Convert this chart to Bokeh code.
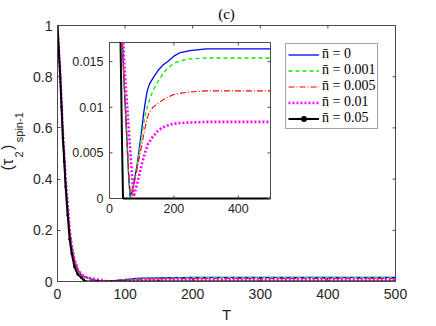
from bokeh.plotting import figure
from bokeh.models import Range1d, FixedTicker, Legend, LegendItem, Title
from bokeh.core.properties import value
from bokeh.embed import file_html
from bokeh.resources import INLINE

# ---------------- data ----------------
t_blue = [0, 2, 4, 6, 8, 10, 12, 15, 18, 21, 25, 30, 35, 40, 45, 50, 55, 60, 64, 70, 75, 80, 86, 90,
          100, 106, 110, 117, 125, 135, 150, 165, 180, 200, 220, 250, 300, 400, 500]
v_blue = [1.0, 0.90, 0.81, 0.69, 0.57, 0.48, 0.39, 0.29, 0.195, 0.135, 0.082, 0.045, 0.026, 0.0172,
          0.0128, 0.0093, 0.0057, 0.0021, 0.0002, 0.0008, 0.0016, 0.0026, 0.0037, 0.0048,
          0.0075, 0.0093, 0.0103, 0.0118, 0.0126, 0.0132, 0.0140, 0.0146, 0.0150, 0.0156,
          0.0160, 0.0162, 0.0164, 0.0164, 0.0164]

t_green = [0, 2, 4, 6, 8, 10, 12, 15, 18, 21, 25, 30, 35, 40, 45, 50, 55, 60, 65, 70, 80, 90,
           100, 110, 120, 127, 135, 150, 165, 180, 200, 220, 250, 300, 400, 500]
v_green = [1.0, 0.90, 0.81, 0.69, 0.57, 0.48, 0.39, 0.29, 0.196, 0.136, 0.083, 0.046, 0.026, 0.0173,
           0.0129, 0.0094, 0.0058, 0.0022, 0.0001, 0.0007, 0.0024, 0.0045,
           0.0068, 0.0090, 0.0104, 0.0111, 0.0118, 0.0128, 0.0136, 0.0143, 0.0148,
           0.0151, 0.0153, 0.0154, 0.0154, 0.0154]

t_red = [0, 2, 4, 6, 8, 10, 12, 15, 18, 21, 25, 30, 35, 40, 45, 50, 55, 60, 65, 70, 80, 90,
         100, 110, 117, 122, 135, 150, 165, 180, 200, 230, 260, 300, 400, 500]
v_red = [1.0, 0.90, 0.81, 0.69, 0.57, 0.48, 0.39, 0.29, 0.197, 0.137, 0.084, 0.047, 0.027, 0.0175,
         0.0133, 0.0098, 0.0062, 0.0027, 0.0004, 0.0005, 0.0022, 0.0040,
         0.0058, 0.0077, 0.0088, 0.0093, 0.0100, 0.0104, 0.0108, 0.0111, 0.0114,
         0.0116, 0.0117, 0.0118, 0.0118, 0.0118]

t_mag = [0, 2, 4, 6, 8, 10, 12, 15, 18, 21, 25, 30, 35, 40, 45, 50, 55, 60, 65, 70, 75, 80, 90,
         100, 110, 120, 133, 150, 165, 180, 200, 230, 300, 400, 500]
v_mag = [1.0, 0.905, 0.815, 0.70, 0.58, 0.49, 0.40, 0.30, 0.20, 0.14, 0.086, 0.048, 0.028, 0.019,
         0.0155, 0.0125, 0.0100, 0.0075, 0.0050, 0.0025, 0.0002, 0.0008, 0.0022,
         0.0037, 0.0050, 0.0060, 0.0067, 0.0074, 0.0078, 0.0080, 0.0082, 0.0083,
         0.0084, 0.0084, 0.0084]

t_black = [0, 2, 4, 6, 8, 10, 12, 15, 18, 21, 25, 30, 35, 39, 42, 50, 60, 80, 100, 150, 200, 300, 400, 500]
v_black = [1.0, 0.90, 0.80, 0.68, 0.56, 0.47, 0.37, 0.26, 0.165, 0.11, 0.058, 0.028, 0.0155, 0.006,
           0.0, 0.0, 0.0, 0.0, 0.0, 0.0, 0.0, 0.0, 0.0, 0.0]

labels = ["n\u0304 = 0", "n\u0304 = 0.001", "n\u0304 = 0.005", "n\u0304 = 0.01", "n\u0304 = 0.05"]

x_ticks = [0, 100, 200, 300, 400, 500]
y_ticks = [0, 0.2, 0.4, 0.6, 0.8, 1]
y_tick_labels = ["0", "0.2", "0.4", "0.6", "0.8", "1"]

inset_x_ticks = [0, 200, 400]
inset_x_labels = ["0", "200", "400"]
inset_y_ticks = [0, 0.005, 0.01, 0.015]
inset_y_labels = ["0", "0.005", "0.01", "0.015"]
inset_x_max = 500
inset_y_max = 0.0171

title_text = "(c)"
x_label = "T"
y_label_main = "(\u03c4\u00a0\u00a0)"          # "(τ  )"  – room left for the subscript "2"
y_label_sub = "2\u00a0\u00a0\u00a0spin-1"        # subscripts "2" and "spin-1"

# ---------------- layout / style ----------------
W, H = 436, 326
ML, MR, MT, MB = 57, 41, 25, 45
FRAME_B = H - MB
FW = W - ML - MR
FH = H - MT - MB
AX = "#4a4a4a"
TXT = "#262626"
SANS = "Liberation Sans"
SERIF = "Liberation Serif"
TICK = 3

# inset frame as fractions of the main frame
ifx0, ifx1 = 0.1538, 0.6302
ify0, ify1 = 0.3242, 0.9336

p = figure(width=W, height=H, output_backend="svg", toolbar_location=None,
           x_range=Range1d(0, 500), y_range=Range1d(0, 1),
           min_border_left=ML, min_border_right=MR, min_border_top=MT, min_border_bottom=MB)
p.grid.visible = False
p.outline_line_color = AX
p.background_fill_color = "white"
p.border_fill_color = "white"

def style_axis(ax, ticks, standoff):
    ax.ticker = FixedTicker(ticks=ticks)
    ax.major_tick_in = TICK
    ax.major_tick_out = 0
    ax.minor_tick_line_color = None
    ax.axis_line_color = AX
    ax.major_tick_line_color = AX
    ax.major_label_text_font = SANS
    ax.major_label_text_font_size = "14px"
    ax.major_label_text_color = TXT
    ax.major_label_standoff = standoff

style_axis(p.xaxis[0], x_ticks, 7)
style_axis(p.yaxis[0], y_ticks, 5)
p.yaxis[0].major_label_overrides = {t: s for t, s in zip(y_ticks, y_tick_labels)}

# x axis label
p.xaxis[0].axis_label = x_label
p.xaxis[0].axis_label_text_font = SANS
p.xaxis[0].axis_label_text_font_size = "15px"
p.xaxis[0].axis_label_text_font_style = "normal"
p.xaxis[0].axis_label_text_color = TXT
p.xaxis[0].axis_label_standoff = 4

# title
p.title.text = title_text
p.title.align = "center"
p.title.vertical_align = "middle"
p.title.text_font = SERIF
p.title.text_font_size = "15px"
p.title.text_font_style = "normal"
p.title.text_color = "black"
p.title.standoff = 5

# y label: subscript column (inner) and main column (outer)
sub_title = Title(text=y_label_sub, align="left", offset=FRAME_B - 157, vertical_align="top",
                  standoff=8, text_font=SANS, text_font_size="11px", text_font_style="normal",
                  text_color=TXT)
main_title = Title(text=y_label_main, align="left", offset=FRAME_B - 170, vertical_align="bottom",
                   standoff=-14, text_font=SANS, text_font_size="16px", text_font_style="normal",
                   text_color=TXT)
p.add_layout(sub_title, "left")
p.add_layout(main_title, "left")

# mirrored ticks on top and right frame edges
px_mx = 500 / FW
px_my = 1 / FH
p.segment(x0=x_ticks, x1=x_ticks, y0=[1] * len(x_ticks), y1=[1 - TICK * px_my] * len(x_ticks),
          line_color=AX)
p.segment(x0=[500] * len(y_ticks), x1=[500 - TICK * px_mx] * len(y_ticks), y0=y_ticks, y1=y_ticks,
          line_color=AX)

styles = [
    dict(color="#0000ff", width=1.3, dash="solid"),
    dict(color="#00f000", width=1.3, dash="4 3"),
    dict(color="#ff0000", width=1.1, dash="6 2 1 2"),
    dict(color="#ff00ff", width=2.6, dash="2 2"),
    dict(color="#000000", width=2.0, dash="solid"),
]
series = [(t_blue, v_blue), (t_green, v_green), (t_red, v_red), (t_mag, v_mag), (t_black, v_black)]

main_renderers = []
for (t, v), st in zip(series, styles):
    r = p.line(t, v, line_color=st["color"], line_width=st["width"], line_dash=st["dash"])
    main_renderers.append([r])
r_dots = p.scatter(t_black, v_black, marker="circle", size=2.6, fill_color="black", line_width=0,
                   line_color=None)
main_renderers[-1].append(r_dots)

# ---------------- inset (extra ranges) ----------------
ixspan = inset_x_max / (ifx1 - ifx0)
iyspan = inset_y_max / (ify1 - ify0)
p.extra_x_ranges = {"ix": Range1d(-ifx0 * ixspan, -ifx0 * ixspan + ixspan)}
p.extra_y_ranges = {"iy": Range1d(-ify0 * iyspan, -ify0 * iyspan + iyspan)}
IR = dict(x_range_name="ix", y_range_name="iy")

p.quad(left=[0], right=[inset_x_max], bottom=[0], top=[inset_y_max],
       fill_color="white", line_color=AX, line_width=1, **IR)

def clip_top(t, v, top):
    xs, ys = [], []
    for i in range(len(t)):
        if i > 0:
            t0, v0, t1, v1 = t[i - 1], v[i - 1], t[i], v[i]
            if (v0 > top) != (v1 > top):
                tc = t0 + (top - v0) * (t1 - t0) / (v1 - v0)
                xs.append(tc); ys.append(top)
                if v1 > top:
                    xs.append(float("nan")); ys.append(float("nan"))
        if v[i] <= top:
            xs.append(t[i]); ys.append(v[i])
    return xs, ys

for (t, v), st in zip(series, styles):
    xs, ys = clip_top(t, v, inset_y_max)
    p.line(xs, ys, line_color=st["color"], line_width=st["width"], line_dash=st["dash"], **IR)

# inset ticks and labels
px_x = inset_x_max / (FW * (ifx1 - ifx0))
px_y = inset_y_max / (FH * (ify1 - ify0))
nx, ny = len(inset_x_ticks), len(inset_y_ticks)
p.segment(x0=inset_x_ticks, x1=inset_x_ticks, y0=[0] * nx, y1=[TICK * px_y] * nx, line_color=AX, **IR)
p.segment(x0=inset_x_ticks, x1=inset_x_ticks, y0=[inset_y_max] * nx,
          y1=[inset_y_max - TICK * px_y] * nx, line_color=AX, **IR)
p.segment(x0=[0] * ny, x1=[TICK * px_x] * ny, y0=inset_y_ticks, y1=inset_y_ticks, line_color=AX, **IR)
p.segment(x0=[inset_x_max] * ny, x1=[inset_x_max - TICK * px_x] * ny, y0=inset_y_ticks,
          y1=inset_y_ticks, line_color=AX, **IR)
p.text(x=inset_x_ticks, y=[0] * nx, text=inset_x_labels, text_align="center", text_baseline="top",
       y_offset=5, text_font=value(SANS), text_font_size=value("12.5px"), text_color=TXT, **IR)
p.text(x=[0] * ny, y=inset_y_ticks, text=inset_y_labels, text_align="right", text_baseline="middle",
       x_offset=-6, text_font=value(SANS), text_font_size=value("12.5px"), text_color=TXT, **IR)

# ---------------- legend ----------------
items = [LegendItem(label=lab, renderers=rs) for lab, rs in zip(labels, main_renderers)]
legend = Legend(items=items, location=(228, 152), padding=2, spacing=-1, margin=0,
                glyph_width=31, glyph_height=15, label_height=15, label_standoff=3,
                label_text_font=SERIF, label_text_font_size="14px", label_text_color="black",
                border_line_color=AX, border_line_width=1, background_fill_color="white",
                background_fill_alpha=1)
p.add_layout(legend)

open("out.html", "w").write(file_html(p, INLINE))
